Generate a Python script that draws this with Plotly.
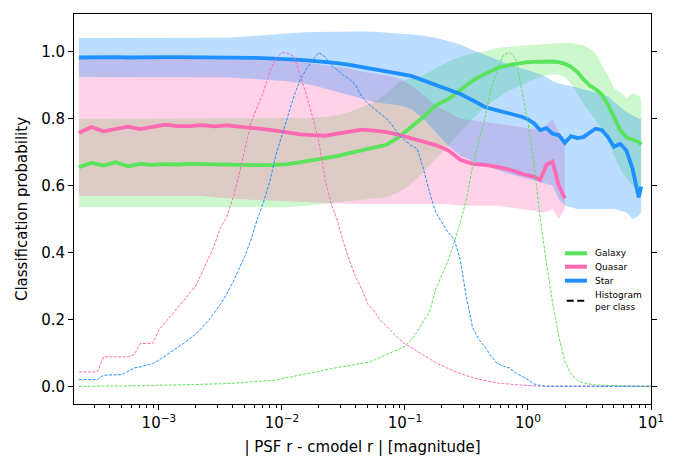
import numpy as np
import plotly.graph_objects as go

# ---------------- data ----------------
# bin centres (log10 of |PSF r - cmodel r|) for the probability curves
line_log_x = [-3.65, -3.55, -3.45, -3.35, -3.25, -3.15, -3.05, -2.95, -2.85, -2.75,
              -2.65, -2.55, -2.45, -2.35, -2.25, -2.15, -2.05, -1.95, -1.85, -1.75,
              -1.65, -1.55, -1.45, -1.35, -1.25, -1.15, -1.05, -0.95, -0.85, -0.75,
              -0.65, -0.55, -0.45, -0.35, -0.25, -0.15, -0.05,
              0.00, 0.05, 0.10, 0.15, 0.20, 0.25, 0.30, 0.35, 0.40, 0.45,
              0.50, 0.55, 0.60, 0.65, 0.70, 0.75, 0.80, 0.85, 0.90, 0.92]

galaxy_mean = [0.655, 0.668, 0.660, 0.670, 0.658, 0.665, 0.662, 0.664, 0.663, 0.665,
               0.664, 0.663, 0.663, 0.662, 0.661, 0.661, 0.662, 0.664, 0.670, 0.676,
               0.681, 0.688, 0.697, 0.706, 0.714, 0.722, 0.745, 0.775, 0.805, 0.840,
               0.858, 0.885, 0.914, 0.934, 0.951, 0.961, 0.967,
               0.969, 0.970, 0.971, 0.971, 0.971, 0.969, 0.964, 0.955, 0.940, 0.918,
               0.900, 0.888, 0.872, 0.842, 0.805, 0.766, 0.744, 0.737, 0.731, 0.722]
galaxy_high = [0.800] * 17 + [0.801, 0.802, 0.803, 0.805, 0.810, 0.820, 0.835, 0.850, 0.875, 0.910,
               0.920, 0.930, 0.950, 0.970, 0.985, 0.995, 1.001, 1.011, 1.015, 1.018,
               1.020, 1.021, 1.022, 1.024, 1.025, 1.026, 1.026, 1.026, 1.022, 1.020,
               1.010, 0.995, 0.960, 0.930, 0.890, 0.880, 0.860, 0.875, 0.870, 0.860]
galaxy_low = [0.535] * 17 + [0.535, 0.538, 0.542, 0.546, 0.550, 0.553, 0.556, 0.560, 0.565, 0.580,
              0.605, 0.640, 0.680, 0.720, 0.760, 0.800, 0.835, 0.862, 0.885, 0.900,
              0.910, 0.918, 0.925, 0.930, 0.933, 0.932, 0.925, 0.905, 0.875, 0.845,
              0.820, 0.795, 0.770, 0.730, 0.690, 0.650, 0.620, 0.600, 0.580, 0.575]

quasar_mean = [0.757, 0.775, 0.762, 0.770, 0.776, 0.769, 0.776, 0.782, 0.778, 0.778,
               0.781, 0.777, 0.780, 0.777, 0.774, 0.769, 0.764, 0.758, 0.753, 0.751,
               0.749, 0.755, 0.760, 0.767, 0.764, 0.760, 0.752, 0.742, 0.733, 0.721,
               0.706, 0.677, 0.665, 0.662, 0.656, 0.648, 0.635,
               0.630, 0.626, 0.617, 0.662, 0.672, 0.600, 0.562]
quasar_high = [0.980] * 17 + [0.975, 0.970, 0.965, 0.960, 0.955, 0.950, 0.940, 0.935, 0.930, 0.920,
               0.900, 0.870, 0.840, 0.820, 0.800, 0.795, 0.790, 0.785, 0.780, 0.775,
               0.770, 0.770, 0.770, 0.780, 0.800, 0.760, 0.720]
quasar_low = [0.569] * 11 + [0.565, 0.562, 0.560, 0.558, 0.556, 0.555, 0.553, 0.552, 0.550, 0.548,
              0.546, 0.545, 0.545, 0.545, 0.545, 0.545, 0.545, 0.545, 0.545, 0.545,
              0.540, 0.540, 0.540, 0.540, 0.535, 0.530,
              0.528, 0.525, 0.520, 0.520, 0.530, 0.500, 0.530]

star_mean = [0.983, 0.984, 0.983, 0.984, 0.983, 0.984, 0.984, 0.984, 0.984, 0.984,
             0.984, 0.984, 0.984, 0.983, 0.982, 0.981, 0.980, 0.978, 0.976, 0.973,
             0.970, 0.966, 0.961, 0.955, 0.949, 0.942, 0.935, 0.928, 0.915, 0.900,
             0.887, 0.874, 0.855, 0.835, 0.825, 0.816, 0.806,
             0.798, 0.786, 0.766, 0.772, 0.755, 0.751, 0.728, 0.748, 0.742, 0.745,
             0.758, 0.770, 0.766, 0.745, 0.716, 0.725, 0.705, 0.650, 0.565, 0.597]
star_high = [1.041] * 12 + [1.042, 1.044, 1.047, 1.050, 1.053, 1.056, 1.058, 1.059, 1.060, 1.061,
             1.061, 1.061, 1.060, 1.058, 1.056, 1.052, 1.048, 1.042, 1.032, 1.022,
             1.005, 0.990, 0.976, 0.962, 0.950,
             0.945, 0.940, 0.933, 0.925, 0.912, 0.905, 0.900, 0.897, 0.893, 0.888,
             0.882, 0.877, 0.872, 0.867, 0.850, 0.835, 0.820, 0.810, 0.800, 0.800]
star_low = [0.925] * 12 + [0.924, 0.922, 0.920, 0.918, 0.915, 0.912, 0.907, 0.900, 0.890, 0.880,
            0.870, 0.860, 0.850, 0.845, 0.840, 0.830, 0.800, 0.760, 0.720, 0.690,
            0.672, 0.660, 0.647, 0.635, 0.625,
            0.620, 0.617, 0.612, 0.605, 0.600, 0.560, 0.540, 0.535, 0.530, 0.530,
            0.530, 0.530, 0.530, 0.530, 0.530, 0.525, 0.520, 0.500, 0.510, 0.520]

# histogram bin centres (log10) and normalised counts per class
hist_log_x = np.round(np.arange(-3.65, 1.0001, 0.05), 2)
galaxy_hist = [0, 0, 0, 0.001, 0.001, 0.001, 0.001, 0.001, 0.001, 0.002,
               0.002, 0.002, 0.002, 0.003, 0.003, 0.003, 0.004, 0.004, 0.005, 0.005,
               0.006, 0.006, 0.007, 0.008, 0.008, 0.009, 0.010, 0.011, 0.012, 0.013,
               0.015, 0.017, 0.019, 0.022, 0.025, 0.030, 0.034, 0.038, 0.042, 0.046,
               0.050, 0.053, 0.056, 0.059, 0.062, 0.065, 0.068, 0.072, 0.078, 0.087,
               0.095, 0.103, 0.110, 0.120, 0.138, 0.163, 0.195, 0.222, 0.290, 0.335,
               0.375, 0.430, 0.490, 0.560, 0.660, 0.730, 0.800, 0.890, 0.945, 0.990,
               0.998, 0.980, 0.890, 0.790, 0.660, 0.500, 0.370, 0.250, 0.150, 0.075,
               0.037, 0.018, 0.010, 0.006, 0.004, 0.003, 0.002, 0.001, 0.001, 0,
               0, 0, 0, 0]
quasar_hist = [0.043, 0.043, 0.043, 0.043, 0.088, 0.088, 0.088, 0.088, 0.088, 0.095,
               0.128, 0.128, 0.128, 0.168, 0.190, 0.213, 0.235, 0.257, 0.280, 0.300,
               0.340, 0.380, 0.420, 0.475, 0.505, 0.560, 0.630, 0.710, 0.790, 0.835,
               0.880, 0.940, 0.980, 0.998, 0.995, 0.985, 0.930, 0.870, 0.805, 0.730,
               0.620, 0.545, 0.497, 0.430, 0.375, 0.325, 0.290, 0.245, 0.225, 0.197,
               0.180, 0.160, 0.142, 0.127, 0.115, 0.103, 0.093, 0.083, 0.070, 0.062,
               0.053, 0.045, 0.038, 0.031, 0.026, 0.021, 0.017, 0.013, 0.010, 0.008,
               0.006, 0.004, 0.003, 0.002, 0.001, 0, 0, 0, 0, 0,
               0, 0, 0, 0, 0, 0, 0, 0, 0, 0,
               0, 0, 0, 0]
star_hist = [0.020, 0.020, 0.020, 0.020, 0.033, 0.033, 0.033, 0.035, 0.045, 0.055,
             0.058, 0.062, 0.068, 0.078, 0.090, 0.103, 0.115, 0.128, 0.142, 0.156,
             0.175, 0.195, 0.220, 0.245, 0.275, 0.310, 0.350, 0.390, 0.440, 0.500,
             0.550, 0.610, 0.690, 0.750, 0.810, 0.870, 0.916, 0.950, 0.975, 0.998,
             0.985, 0.960, 0.946, 0.930, 0.918, 0.900, 0.865, 0.845, 0.830, 0.815,
             0.800, 0.778, 0.752, 0.735, 0.720, 0.710, 0.650, 0.580, 0.520, 0.490,
             0.460, 0.440, 0.377, 0.265, 0.175, 0.140, 0.118, 0.090, 0.068, 0.060,
             0.055, 0.040, 0.030, 0.020, 0.007, 0.002, 0, 0, 0, 0,
             0, 0, 0, 0, 0, 0, 0, 0, 0, 0,
             0, 0, 0, 0]

class_names = ["Galaxy", "Quasar", "Star"]
x_tick_vals = [1e-3, 1e-2, 1e-1, 1e0, 1e1]
x_tick_text = ["10<sup>\u22123</sup>", "10<sup>\u22122</sup>", "10<sup>\u22121</sup>",
               "10<sup>0</sup>", "10<sup>1</sup>"]
y_tick_vals = [0.0, 0.2, 0.4, 0.6, 0.8, 1.0]
y_tick_text = ["0.0", "0.2", "0.4", "0.6", "0.8", "1.0"]

# ---------------- styling ----------------
colors = {"Galaxy": (91, 227, 91), "Quasar": (255, 105, 180), "Star": (30, 144, 255)}
FONT = "DejaVu Sans"

def rgb(c, a=None):
    return f"rgb({c[0]},{c[1]},{c[2]})" if a is None else f"rgba({c[0]},{c[1]},{c[2]},{a})"

x_line = 10 ** np.array(line_log_x)
x_hist = 10 ** hist_log_x

series = {
    "Galaxy": (galaxy_mean, galaxy_low, galaxy_high, galaxy_hist),
    "Quasar": (quasar_mean, quasar_low, quasar_high, quasar_hist),
    "Star": (star_mean, star_low, star_high, star_hist),
}

fig = go.Figure()

# shaded bands
for name in class_names:
    mean, low, high, _ = series[name]
    n = len(low)
    fig.add_trace(go.Scatter(x=x_line[:n], y=low, mode="lines", line=dict(width=0),
                             hoverinfo="skip", showlegend=False))
    fig.add_trace(go.Scatter(x=x_line[:n], y=high, mode="lines", line=dict(width=0),
                             fill="tonexty", fillcolor=rgb(colors[name], 0.3),
                             hoverinfo="skip", showlegend=False))

# mean curves
for name in class_names:
    mean = series[name][0]
    fig.add_trace(go.Scatter(x=x_line[:len(mean)], y=mean, mode="lines", name=name,
                             line=dict(color=rgb(colors[name]), width=3.8),
                             showlegend=False))

# histograms per class
for name in class_names:
    h = series[name][3]
    fig.add_trace(go.Scatter(x=x_hist, y=h, mode="lines",
                             line=dict(color=rgb(colors[name]), width=1, dash="3px,1.5px"),
                             showlegend=False))

# manual legend (paper coordinates)
shapes = []
annotations = []
leg_rows = [("Galaxy", 0.3864), ("Quasar", 0.3521), ("Star", 0.3162)]
for name, yy in leg_rows:
    shapes.append(dict(type="line", xref="paper", yref="paper", x0=0.851, x1=0.889,
                       y0=yy, y1=yy, line=dict(color=rgb(colors[name]), width=4)))
    annotations.append(dict(xref="paper", yref="paper", x=0.8995, y=yy, text=name,
                            showarrow=False, xanchor="left", yanchor="middle",
                            font=dict(family=FONT, size=9, color="black")))
shapes.append(dict(type="line", xref="paper", yref="paper", x0=0.8539, x1=0.8856,
                   y0=0.2649, y1=0.2649, line=dict(color="black", width=2, dash="7px,3.5px")))
annotations.append(dict(xref="paper", yref="paper", x=0.8995, y=0.2649,
                        text="Histogram<br>per class", showarrow=False,
                        xanchor="left", yanchor="middle", align="left",
                        font=dict(family=FONT, size=9, color="black")))

fig.update_layout(
    width=676, height=456,
    margin=dict(l=74, r=25, t=14, b=52, autoexpand=False),
    paper_bgcolor="white", plot_bgcolor="white",
    font=dict(family=FONT, size=15, color="black"),
    shapes=shapes, annotations=annotations,
    showlegend=False,
)
fig.update_xaxes(
    type="log", range=[-3.69, 1.0],
    tickmode="array", tickvals=x_tick_vals, ticktext=x_tick_text,
    ticks="outside", ticklen=5, tickwidth=1, tickcolor="black",
    minor=dict(ticks="outside", ticklen=3, tickwidth=0.8, tickcolor="black",
               tickmode="array",
               tickvals=[m * 10.0 ** e for e in range(-4, 1) for m in range(2, 10)]),
    showline=True, linecolor="black", linewidth=1, mirror=True,
    showgrid=False, zeroline=False,
    tickfont=dict(family=FONT, size=15, color="black"),
    title=dict(text="| PSF r - cmodel r | [magnitude]", standoff=11,
               font=dict(family=FONT, size=15, color="black")),
)
fig.update_yaxes(
    range=[-0.053, 1.113],
    tickmode="array", tickvals=y_tick_vals, ticktext=y_tick_text,
    ticks="outside", ticklen=5, tickwidth=1, tickcolor="black",
    showline=True, linecolor="black", linewidth=1, mirror="ticks",
    showgrid=False, zeroline=False,
    tickfont=dict(family=FONT, size=15, color="black"),
    title=dict(text="Classification probability", standoff=9,
               font=dict(family=FONT, size=15, color="black")),
)

fig.write_html("out.html", config={"displayModeBar": False},
               post_script="document.body.style.margin='0';")
